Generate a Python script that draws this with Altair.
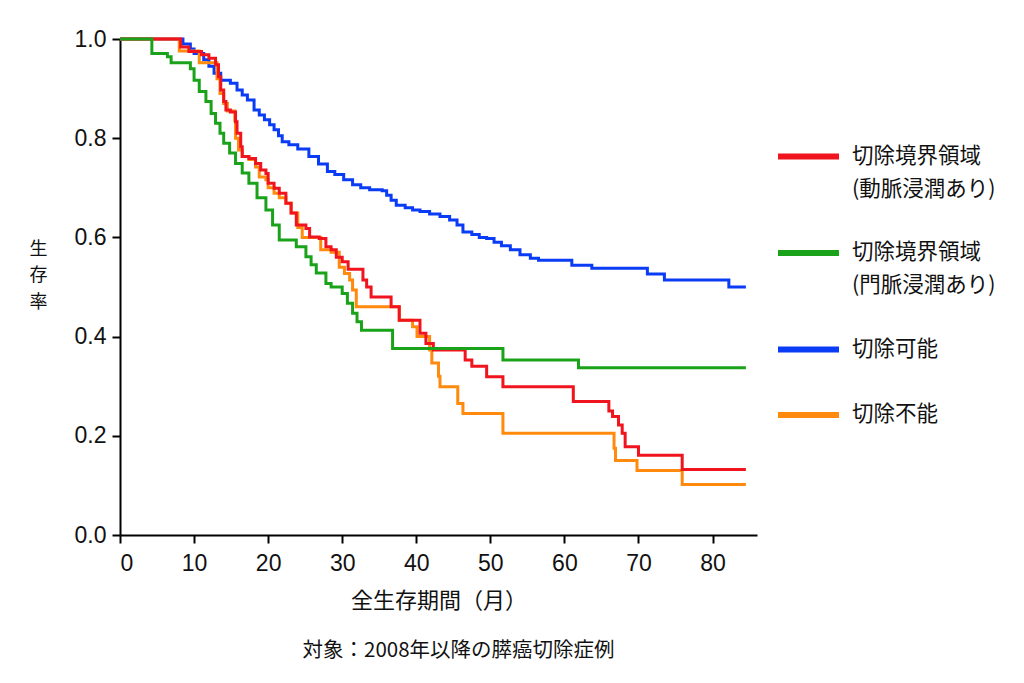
import altair as alt
import pandas as pd

# ---- data (Kaplan-Meier step curves) ----
names = ["切除境界領域|(動脈浸潤あり)", "切除境界領域|(門脈浸潤あり)", "切除可能", "切除不能"]
colors = ["#f0141e", "#1aa31a", "#0a3cf5", "#ff8a0d"]

red_t = [0, 8.2, 9.3, 11.0, 12.0, 12.9, 13.3, 13.6, 14.0, 14.3, 14.9, 15.6, 15.8, 16.3, 16.5,
         17.4, 18.3, 19.0, 19.7, 20.0, 20.8, 21.5, 22.4, 23.1, 23.8, 25.1, 25.6, 26.9, 27.8,
         28.5, 29.2, 30.0, 30.8, 32.8, 33.3, 33.9, 36.6, 37.7, 40.5, 41.3, 42.3, 46.6, 47.5,
         49.5, 51.7, 61.2, 66.0, 66.5, 67.3, 67.8, 68.2, 70.0, 75.9, 84.5]
red_s = [1.0, 0.984, 0.975, 0.968, 0.961, 0.948, 0.924, 0.897, 0.874, 0.857, 0.853, 0.833, 0.81,
         0.783, 0.763, 0.759, 0.749, 0.736, 0.729, 0.709, 0.699, 0.689, 0.669, 0.649, 0.625,
         0.618, 0.601, 0.598, 0.581, 0.575, 0.56, 0.551, 0.536, 0.514, 0.50, 0.48, 0.46, 0.433,
         0.407, 0.386, 0.373, 0.353, 0.34, 0.319, 0.299, 0.269, 0.25, 0.239, 0.222, 0.205,
         0.178, 0.161, 0.132, 0.132]

orange_t = [0, 8.0, 10.7, 13.1, 13.5, 14.0, 14.5, 15.5, 15.6, 16.0, 16.5, 17.4, 18.3, 18.8,
            19.7, 20.0, 20.8, 21.5, 22.4, 23.1, 24.0, 24.6, 27.1, 28.5, 29.6, 30.3, 31.0, 31.4,
            31.9, 37.7, 39.5, 40.1, 41.8, 42.1, 43.0, 43.2, 45.6, 46.3, 51.7, 66.7, 66.9, 69.8,
            75.9, 84.5]
orange_s = [1.0, 0.976, 0.952, 0.92, 0.89, 0.87, 0.855, 0.835, 0.80, 0.776, 0.763, 0.757, 0.742,
            0.722, 0.716, 0.70, 0.689, 0.68, 0.669, 0.649, 0.62, 0.60, 0.575, 0.57, 0.54, 0.527,
            0.514, 0.494, 0.46, 0.433, 0.42, 0.40, 0.373, 0.347, 0.32, 0.299, 0.265, 0.245,
            0.205, 0.175, 0.15, 0.13, 0.102, 0.102]

green_t = [0, 4.3, 6.4, 6.9, 9.5, 10.0, 10.7, 11.6, 12.3, 12.9, 13.5, 14.0, 14.8, 15.6, 16.5,
           17.4, 18.5, 19.7, 20.6, 21.5, 23.8, 25.1, 25.8, 26.5, 27.8, 28.5, 30.0, 30.7, 31.4,
           32.0, 32.6, 36.8, 51.7, 61.9, 84.5]
green_s = [1.0, 0.971, 0.964, 0.952, 0.94, 0.917, 0.894, 0.874, 0.85, 0.83, 0.81, 0.79, 0.77,
           0.749, 0.73, 0.709, 0.68, 0.655, 0.625, 0.595, 0.581, 0.561, 0.545, 0.528, 0.507,
           0.50, 0.487, 0.467, 0.447, 0.43, 0.413, 0.376, 0.353, 0.337, 0.337]

blue_t = [0, 8.5, 9.5, 10.0, 11.3, 12.0, 12.7, 13.6, 14.9, 15.8, 16.5, 17.2, 18.1, 18.8, 19.5,
          20.2, 20.8, 21.4, 21.9, 22.8, 24.0, 25.5, 26.8, 28.0, 29.0, 30.2, 31.4, 32.5, 33.7,
          35.4, 36.0, 36.6, 37.3, 38.5, 39.5, 40.5, 41.8, 43.2, 44.5, 45.5, 46.3, 47.5, 48.5,
          49.5, 50.5, 51.5, 52.7, 54.0, 55.4, 56.5, 61.0, 63.7, 71.2, 73.5, 82.2, 84.5]
blue_s = [1.0, 0.99, 0.98, 0.971, 0.958, 0.945, 0.931, 0.917, 0.911, 0.897, 0.887, 0.877, 0.857,
          0.847, 0.837, 0.827, 0.817, 0.805, 0.793, 0.787, 0.778, 0.763, 0.748, 0.733, 0.727,
          0.716, 0.706, 0.70, 0.696, 0.694, 0.685, 0.675, 0.665, 0.66, 0.655, 0.652, 0.647,
          0.642, 0.635, 0.625, 0.611, 0.606, 0.60, 0.598, 0.59, 0.583, 0.575, 0.565, 0.558,
          0.554, 0.544, 0.538, 0.526, 0.514, 0.50, 0.50]

x_ticks = [0, 10, 20, 30, 40, 50, 60, 70, 80]
y_ticks = [0.0, 0.2, 0.4, 0.6, 0.8, 1.0]

rows = []
for name, ts, ss in [(names[2], blue_t, blue_s), (names[3], orange_t, orange_s),
                     (names[0], red_t, red_s), (names[1], green_t, green_s)]:
    for t, s in zip(ts, ss):
        rows.append({"group": name, "t": t, "s": s})
df = pd.DataFrame(rows)

num_font = "Liberation Sans"
jp_font = "Noto Sans CJK JP"

chart = alt.Chart(df).mark_line(interpolate="step-after", strokeWidth=3).encode(
    x=alt.X("t:Q",
            scale=alt.Scale(domain=[0, 86], nice=False),
            axis=alt.Axis(values=x_ticks, title="全生存期間（月）", grid=False,
                          domainColor="black", domainWidth=2, tickColor="black", tickWidth=2,
                          tickSize=8, labelFont=num_font, labelFontSize=23, labelColor="#111",
                          labelPadding=9, titleFont=jp_font, titleFontSize=22,
                          titleFontWeight="normal", titleColor="#111", titlePadding=15)),
    y=alt.Y("s:Q",
            scale=alt.Scale(domain=[0, 1]),
            axis=alt.Axis(values=y_ticks, format=".1f", title=["生", "存", "率"], grid=False,
                          domainColor="black", domainWidth=2, tickColor="black", tickWidth=2,
                          tickSize=8, labelFont=num_font, labelFontSize=23, labelColor="#111",
                          labelPadding=6, titleFont=jp_font, titleFontSize=18,
                          titleFontWeight="normal", titleColor="#111", titleAngle=0,
                          titleAlign="center", titleBaseline="alphabetic", titleX=-82,
                          titleY=215, titleLineHeight=26.5)),
    color=alt.Color("group:N",
                    scale=alt.Scale(domain=names, range=colors),
                    legend=alt.Legend(title=None, orient="none", legendX=655, legendY=84,
                                      labelExpr="split(datum.label, '|')",
                                      symbolType="stroke", symbolSize=3721,
                                      symbolStrokeWidth=6, labelFont=jp_font,
                                      labelFontSize=21.5, labelColor="#111",
                                      labelOffset=10, labelLimit=400, rowPadding=19.5,
                                      labelBaseline="middle", padding=0)),
).properties(
    width=637, height=496,
    padding={"left": 21, "top": 20, "right": 5, "bottom": 5},
    title=alt.TitleParams("対象：2008年以降の膵癌切除症例", orient="bottom", anchor="middle",
                          font=jp_font, fontSize=20.5, fontWeight="normal", color="#111",
                          dx=20, offset=30),
).configure(
    view=alt.ViewConfig(stroke=None),
    style={"guide-label": {"lineHeight": 33}},
)

chart.save("out.html", embed_options={"renderer": "svg", "actions": False})
